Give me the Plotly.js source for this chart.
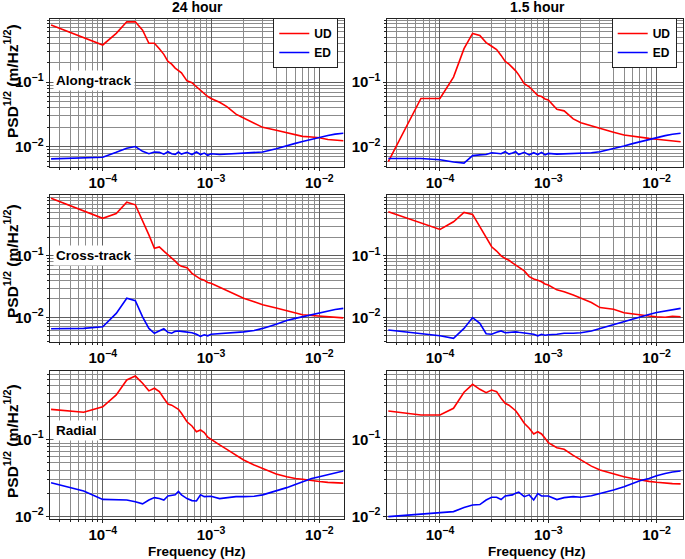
<!DOCTYPE html>
<html><head><meta charset="utf-8">
<script src="https://cdn.plot.ly/plotly-3.0.1.min.js"></script>
<style>html,body{margin:0;padding:0;background:#fff}#chart{width:685px;height:559px}</style>
</head><body><div id="chart"></div>
<script>
// Frequency grid (Hz)
const freq = [3.333e-5, 6.667e-5, 1.0e-4, 1.333e-4, 1.667e-4, 2.0e-4, 2.333e-4, 2.667e-4, 3.0e-4, 3.333e-4,
  3.667e-4, 4.0e-4, 4.333e-4, 4.667e-4, 5.0e-4, 5.333e-4, 6.0e-4, 6.667e-4, 7.333e-4, 8.0e-4,
  8.667e-4, 9.333e-4, 1.0e-3, 1.2e-3, 1.4e-3, 1.7e-3, 2.0e-3, 2.5e-3, 3.0e-3, 4.0e-3,
  5.0e-3, 6.0e-3, 7.0e-3, 8.5e-3, 1.0e-2, 1.2e-2, 1.4e-2, 1.667e-2];

// Along-track
const along24UD = [0.77, 0.49, 0.377, 0.57, 0.86, 0.86, 0.64, 0.40, 0.40, 0.33,
  0.27, 0.21, 0.19, 0.165, 0.15, 0.14, 0.105, 0.098, 0.085, 0.074,
  0.066, 0.060, 0.056, 0.049, 0.042, 0.032, 0.028, 0.023, 0.020, 0.018,
  0.0166, 0.0152, 0.0145, 0.0142, 0.0138, 0.0130, 0.0127, 0.0124];
const along24ED = [0.0065, 0.0067, 0.0069, 0.0082, 0.0095, 0.0101, 0.0085, 0.0078, 0.0083, 0.0082,
  0.0077, 0.0084, 0.0078, 0.0076, 0.0083, 0.0077, 0.0082, 0.0076, 0.0083, 0.0076,
  0.0080, 0.0074, 0.0078, 0.0076, 0.0077, 0.0078, 0.0079, 0.0080, 0.0083, 0.0093,
  0.0105, 0.0113, 0.0121, 0.0132, 0.0142, 0.0150, 0.0157, 0.0162];
const along15UD = [0.0059, 0.056, 0.056, 0.12, 0.33, 0.57, 0.53, 0.41, 0.36, 0.32,
  0.26, 0.21, 0.19, 0.17, 0.15, 0.13, 0.095, 0.085, 0.072, 0.062,
  0.060, 0.055, 0.053, 0.038, 0.036, 0.027, 0.0235, 0.021, 0.019, 0.0168,
  0.0152, 0.0145, 0.0140, 0.0135, 0.0131, 0.0128, 0.0124, 0.0120];
const along15ED = [0.0066, 0.0066, 0.0063, 0.0058, 0.0056, 0.0073, 0.0075, 0.0076, 0.0081, 0.0080,
  0.0078, 0.0084, 0.0077, 0.0080, 0.0084, 0.0076, 0.0082, 0.0075, 0.0081, 0.0076,
  0.0082, 0.0075, 0.0079, 0.0077, 0.0078, 0.0078, 0.0079, 0.0081, 0.0084, 0.0093,
  0.0103, 0.0112, 0.0120, 0.0130, 0.0140, 0.0149, 0.0156, 0.0162];

// Cross-track
const cross24UD = [0.87, 0.54, 0.41, 0.49, 0.75, 0.68, 0.38, 0.22, 0.133, 0.14,
  0.12, 0.103, 0.092, 0.082, 0.072, 0.068, 0.064, 0.052, 0.046, 0.042,
  0.040, 0.037, 0.036, 0.031, 0.028, 0.024, 0.0205, 0.018, 0.016, 0.0142,
  0.0128, 0.0118, 0.0110, 0.0107, 0.0105, 0.0102, 0.0100, 0.0098];
const cross24ED = [0.0065, 0.0066, 0.0070, 0.0116, 0.0204, 0.0186, 0.0102, 0.0066, 0.0055, 0.0061,
  0.0065, 0.0057, 0.0055, 0.0059, 0.0060, 0.0059, 0.0058, 0.0056, 0.0053, 0.0049,
  0.0052, 0.0050, 0.0053, 0.0054, 0.0055, 0.0057, 0.0058, 0.0061, 0.0066, 0.0077,
  0.0089, 0.0096, 0.0102, 0.0111, 0.0119, 0.0127, 0.0134, 0.0140];
const cross15UD = [0.525, 0.34, 0.27, 0.36, 0.51, 0.475, 0.30, 0.195, 0.141, 0.12,
  0.10, 0.091, 0.085, 0.077, 0.071, 0.066, 0.057, 0.046, 0.042, 0.040,
  0.038, 0.035, 0.0335, 0.028, 0.026, 0.023, 0.0204, 0.0174, 0.0144, 0.0135,
  0.0119, 0.0113, 0.0109, 0.0105, 0.0102, 0.0100, 0.0104, 0.0102];
const cross15ED = [0.0062, 0.0055, 0.0050, 0.00455, 0.0066, 0.0099, 0.0080, 0.0054, 0.0053, 0.0057,
  0.0060, 0.0056, 0.0057, 0.0058, 0.0058, 0.0057, 0.0055, 0.0054, 0.0053, 0.0050,
  0.0053, 0.0051, 0.0052, 0.0053, 0.0055, 0.0055, 0.0056, 0.0060, 0.0066, 0.0076,
  0.0085, 0.0094, 0.0102, 0.0111, 0.0120, 0.0128, 0.0135, 0.0140];

// Radial
const radial24UD = [0.247, 0.226, 0.267, 0.38, 0.596, 0.67, 0.54, 0.43, 0.465, 0.42,
  0.344, 0.29, 0.28, 0.26, 0.247, 0.22, 0.17, 0.15, 0.126, 0.133,
  0.123, 0.107, 0.100, 0.085, 0.0745, 0.063, 0.054, 0.0466, 0.042, 0.0356,
  0.0328, 0.031, 0.0303, 0.029, 0.0283, 0.0276, 0.0272, 0.027];
const radial24ED = [0.0274, 0.0214, 0.0166, 0.0165, 0.0163, 0.0155, 0.0145, 0.0163, 0.0175, 0.0170,
  0.0163, 0.0184, 0.0186, 0.0190, 0.0210, 0.0190, 0.0170, 0.0160, 0.0158, 0.0190,
  0.0180, 0.0180, 0.0182, 0.0170, 0.0175, 0.0180, 0.0180, 0.0182, 0.0190, 0.0214,
  0.0236, 0.0260, 0.0283, 0.0310, 0.0328, 0.0350, 0.0370, 0.0389];
const radial15UD = [0.235, 0.208, 0.208, 0.255, 0.412, 0.523, 0.45, 0.407, 0.44, 0.42,
  0.344, 0.296, 0.28, 0.26, 0.237, 0.208, 0.163, 0.14, 0.118, 0.126,
  0.118, 0.104, 0.091, 0.078, 0.0745, 0.062, 0.054, 0.045, 0.040, 0.0356,
  0.0328, 0.031, 0.0297, 0.0285, 0.0277, 0.0270, 0.0266, 0.0264];
const radial15ED = [0.0099, 0.0107, 0.0110, 0.0115, 0.0130, 0.0140, 0.0142, 0.0163, 0.0177, 0.0177,
  0.0165, 0.0184, 0.0187, 0.0190, 0.0200, 0.0206, 0.0180, 0.0190, 0.0163, 0.0197,
  0.0184, 0.0184, 0.0184, 0.0165, 0.0175, 0.0180, 0.0177, 0.0185, 0.0197, 0.0220,
  0.0243, 0.0265, 0.0291, 0.0310, 0.0338, 0.0360, 0.0378, 0.0389];

const columnTitles = ['24 hour', '1.5 hour'];
const rowLabels = ['Along-track', 'Cross-track', 'Radial'];
const seriesNames = ['UD', 'ED'];
const yTitle = 'PSD<sup>1/2</sup> (m/Hz<sup>1/2</sup>)';
const xTitle = 'Frequency (Hz)';

const panels = [
  [along24UD, along24ED], [along15UD, along15ED],
  [cross24UD, cross24ED], [cross15UD, cross15ED],
  [radial24UD, radial24ED], [radial15UD, radial15ED]
];

const W = 685, H = 559;
const FONT = 'Arial, "Liberation Sans", sans-serif';
const colors = ['#ff0000', '#0000ff'];
const xDom = [[50 / W, 344 / W], [386.7 / W, 683.3 / W]];
const xRng = [[-4.487, -1.772], [-4.492, -1.7535]];
const yDom = [[1 - 166.5 / H, 1 - 18.5 / H], [1 - 342 / H, 1 - 195 / H], [1 - 518.5 / H, 1 - 371 / H]];
const yRng = [[-2.305, -0.014], [-2.402, -0.008], [-2.029, -0.108]];

const traces = [];
const layout = {
  width: W, height: H,
  margin: {l: 0, r: 0, t: 0, b: 0},
  paper_bgcolor: '#fff', plot_bgcolor: '#fff',
  font: {family: FONT, color: '#000', size: 12},
  annotations: [], showlegend: true
};

function axisCommon() {
  return {
    type: 'log', showline: true, mirror: true, linecolor: '#222', linewidth: 1,
    ticks: 'outside', ticklen: 3, tickcolor: '#222', dtick: 1,
    exponentformat: 'power', showgrid: true, gridcolor: '#5e5e5e', gridwidth: 1,
    minor: {showgrid: true, gridcolor: '#8c8c8c', gridwidth: 1, ticks: 'outside', ticklen: 2, tickcolor: '#222'},
    tickfont: {family: FONT, size: 12, weight: 'bold', color: '#000'},
    zeroline: false, fixedrange: true
  };
}

panels.forEach((pair, i) => {
  const row = Math.floor(i / 2), col = i % 2;
  const n = i + 1;
  const xa = 'x' + (n === 1 ? '' : n), ya = 'y' + (n === 1 ? '' : n);
  pair.forEach((vals, s) => {
    traces.push({
      x: freq, y: vals, type: 'scatter', mode: 'lines',
      name: seriesNames[s], xaxis: xa, yaxis: ya,
      line: {color: colors[s], width: 1.6},
      showlegend: row === 0,
      legend: col === 0 ? 'legend' : 'legend2'
    });
  });
  const xax = axisCommon();
  xax.domain = xDom[col]; xax.range = xRng[col]; xax.anchor = ya;
  const yax = axisCommon();
  yax.domain = yDom[row]; yax.range = yRng[row]; yax.anchor = xa;
  layout['xaxis' + (n === 1 ? '' : n)] = xax;
  layout['yaxis' + (n === 1 ? '' : n)] = yax;
});

const legendStyle = (xr) => ({
  x: xr, y: 1 - 43 / H, xanchor: 'right', yanchor: 'middle',
  bgcolor: '#fff', bordercolor: '#222', borderwidth: 1,
  font: {family: FONT, size: 12, weight: 'bold', color: '#000'},
  tracegroupgap: 0, itemwidth: 30
});
layout.legend = legendStyle(338.3 / W);
layout.legend2 = legendStyle(676.7 / W);

// column titles
[[197, columnTitles[0]], [537, columnTitles[1]]].forEach(([px, t]) => {
  layout.annotations.push({xref: 'paper', yref: 'paper', x: px / W, y: 1 - 7 / H,
    xanchor: 'center', yanchor: 'middle', text: t, showarrow: false,
    font: {family: FONT, size: 14, weight: 'bold', color: '#000'}});
});
// row labels
[[80, rowLabels[0]], [255, rowLabels[1]], [430.7, rowLabels[2]]].forEach(([py, t]) => {
  layout.annotations.push({xref: 'paper', yref: 'paper', x: 53 / W, y: 1 - py / H,
    xanchor: 'left', yanchor: 'middle', text: t, showarrow: false, bgcolor: '#fff', borderpad: 2,
    font: {family: FONT, size: 13.5, weight: 'bold', color: '#000'}});
});
// y titles
[81, 261, 441].forEach((py) => {
  layout.annotations.push({xref: 'paper', yref: 'paper', x: 11 / W, y: 1 - py / H,
    xanchor: 'center', yanchor: 'middle', text: yTitle, textangle: -90, showarrow: false,
    font: {family: FONT, size: 15.5, weight: 'bold', color: '#000'}});
});
// x titles
[197, 537].forEach((px) => {
  layout.annotations.push({xref: 'paper', yref: 'paper', x: px / W, y: 1 - 551 / H,
    xanchor: 'center', yanchor: 'middle', text: xTitle, showarrow: false,
    font: {family: FONT, size: 13.5, weight: 'bold', color: '#000'}});
});

Plotly.newPlot('chart', traces, layout, {displayModeBar: false, staticPlot: true});
</script></body></html>
